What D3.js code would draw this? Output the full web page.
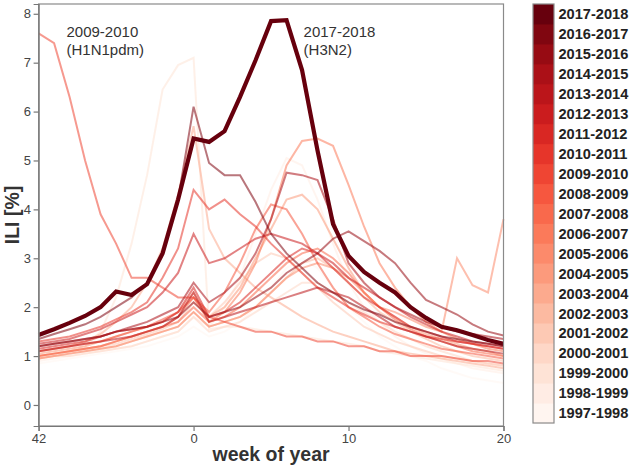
<!DOCTYPE html>
<html>
<head>
<meta charset="utf-8">
<script src="https://cdn.jsdelivr.net/npm/d3@7"></script>
<style>
  body { margin: 0; background: #fff; }
  svg { display: block; }
  text { font-family: "Liberation Sans", Arial, sans-serif; }
</style>
</head>
<body>
<svg id="chart" width="633" height="467"></svg>
<script>
// ---------- DATA ----------
const weeks = d3.range(-10, 21); // week 42 ... week 20 of next year
const xTickValues = [-10, 0, 10, 20];
const xTickLabels = ["42", "0", "10", "20"];
const yTickValues = [0, 1, 2, 3, 4, 5, 6, 7, 8];

const seasons = [
  "1997-1998","1998-1999","1999-2000","2000-2001","2001-2002","2002-2003",
  "2003-2004","2004-2005","2005-2006","2006-2007","2007-2008","2008-2009",
  "2009-2010","2010-2011","2011-2012","2012-2013","2013-2014","2014-2015",
  "2015-2016","2016-2017","2017-2018"
];

const s1997 = [0.85,0.9,0.95,1.0,1.05,1.1,1.15,1.2,1.3,1.4,1.6,1.4,1.5,1.7,2.0,2.4,2.8,3.0,2.8,2.4,2.0,1.7,1.4,1.2,1.0,0.9,0.75,0.65,0.55,0.5,0.45];
const s1998 = [0.9,0.95,1.0,1.05,1.1,1.15,1.2,1.3,1.4,1.5,1.8,1.6,2.0,2.6,3.5,4.4,5.05,4.9,4.2,3.3,2.5,2.0,1.7,1.4,1.2,1.05,0.95,0.85,0.75,0.7,0.65];
const s1999 = [1.0,1.05,1.1,1.2,1.5,2.2,3.3,4.7,6.45,6.95,7.1,1.55,1.6,1.6,1.55,1.5,1.45,1.4,1.35,1.3,1.25,1.2,1.1,1.05,1.0,0.95,0.9,0.85,0.8,0.75,0.7];
const s2000 = [0.95,1.0,1.0,1.05,1.1,1.15,1.2,1.3,1.4,1.5,1.8,1.5,1.6,1.7,1.9,2.1,2.3,2.5,2.5,2.3,2.1,1.9,1.7,1.5,1.35,1.2,1.1,1.0,0.9,0.85,0.8];
const s2001 = [1.0,1.05,1.1,1.15,1.2,1.25,1.35,1.45,1.55,1.7,2.1,1.8,2.1,2.5,2.9,3.1,3.0,2.7,2.4,2.1,1.85,1.6,1.45,1.3,1.2,1.1,1.0,0.95,0.9,0.85,0.8];
const s2002 = [0.95,1.0,1.05,1.1,1.15,1.2,1.3,1.4,1.5,1.6,1.9,1.6,1.7,1.8,2.0,2.3,2.6,2.9,3.0,2.8,2.5,2.2,1.9,1.7,1.5,1.35,1.2,1.1,1.0,0.95,0.9];
const s2003 = [1.1,1.15,1.2,1.3,1.45,1.7,2.0,2.5,3.2,4.3,5.7,3.6,3.0,2.7,2.4,2.2,2.0,1.8,1.65,1.5,1.4,1.3,1.2,1.1,1.05,1.0,0.95,0.9,0.85,0.8,0.75];
const s2004 = [1.05,1.1,1.15,1.2,1.3,1.4,1.5,1.6,1.7,1.9,2.3,1.8,2.0,2.4,3.0,3.6,4.2,4.3,4.0,3.4,2.8,2.3,2.0,1.8,1.6,1.45,1.35,1.25,1.15,1.1,1.0];
const s2005 = [0.95,1.0,1.05,1.1,1.15,1.2,1.3,1.4,1.5,1.6,1.9,1.6,1.7,1.8,2.0,2.3,2.6,2.8,2.9,2.8,2.6,2.3,2.0,1.9,1.75,1.6,1.5,3.0,2.45,2.3,3.8];
const s2006 = [1.0,1.05,1.1,1.15,1.2,1.3,1.4,1.5,1.6,1.8,2.2,1.7,1.9,2.3,2.9,3.8,4.9,5.4,5.45,5.3,4.5,3.65,2.9,2.4,2.0,1.7,1.5,1.35,1.25,1.15,1.1];
const s2007 = [1.0,1.05,1.1,1.15,1.2,1.3,1.4,1.5,1.6,1.7,2.0,1.7,1.8,2.0,2.3,2.6,2.9,3.1,3.2,3.0,2.7,2.3,2.0,1.75,1.55,1.4,1.3,1.2,1.1,1.05,1.0];
const s2008 = [1.1,1.15,1.2,1.25,1.3,1.4,1.5,1.6,1.75,1.9,2.2,1.9,2.3,2.9,3.6,4.1,4.0,3.5,2.9,2.4,2.0,1.8,1.6,1.45,1.35,1.25,1.15,1.1,1.05,1.0,0.95];
const s2009 = [7.6,7.4,6.3,5.0,3.9,3.3,2.6,2.6,2.4,2.2,2.2,1.8,1.7,1.6,1.5,1.5,1.4,1.4,1.3,1.3,1.2,1.2,1.1,1.1,1.0,1.0,1.0,0.95,0.9,0.9,0.85];
const s2010 = [1.3,1.35,1.4,1.5,1.6,1.75,1.9,2.1,2.6,3.2,4.4,4.0,4.2,3.9,3.65,3.3,3.0,2.7,2.4,2.2,2.0,1.85,1.7,1.6,1.5,1.4,1.35,1.3,1.25,1.2,1.15];
const s2011 = [1.15,1.2,1.25,1.3,1.4,1.5,1.55,1.6,1.7,1.9,2.4,1.8,1.9,2.1,2.4,2.7,3.0,3.2,3.1,2.8,2.5,2.2,2.0,1.8,1.6,1.5,1.4,1.3,1.25,1.2,1.15];
const s2012 = [1.25,1.3,1.35,1.45,1.55,1.7,1.85,2.0,2.3,2.7,3.5,2.9,3.0,3.2,3.4,3.5,3.4,3.3,3.1,2.9,2.6,2.4,2.2,2.0,1.8,1.65,1.5,1.4,1.3,1.25,1.2];
const s2013 = [1.1,1.15,1.2,1.25,1.3,1.35,1.4,1.5,1.6,1.8,2.3,1.7,1.8,1.9,2.0,2.1,2.2,2.3,2.4,2.3,2.2,2.0,1.8,1.6,1.5,1.4,1.3,1.2,1.15,1.1,1.05];
const s2014 = [1.2,1.25,1.3,1.35,1.4,1.5,1.6,1.7,1.85,2.0,2.5,2.1,2.3,2.6,3.1,3.8,4.75,4.7,4.6,3.8,2.9,2.5,2.2,2.0,1.85,1.7,1.6,1.5,1.45,1.4,1.35];
const s2015 = [1.2,1.25,1.3,1.35,1.4,1.5,1.55,1.6,1.7,1.8,2.1,1.8,1.9,2.0,2.2,2.4,2.7,2.9,3.1,3.4,3.55,3.35,3.15,2.9,2.5,2.15,2.0,1.85,1.65,1.5,1.42];
const s2016 = [1.35,1.45,1.55,1.65,1.8,2.0,2.2,2.5,3.1,4.2,6.1,4.95,4.7,4.7,4.15,3.5,3.1,2.8,2.5,2.3,2.1,1.95,1.85,1.7,1.6,1.5,1.4,1.35,1.3,1.25,1.2];
const s2017 = [1.43,1.55,1.68,1.82,2.0,2.32,2.25,2.47,3.1,4.2,5.45,5.38,5.6,6.3,7.05,7.85,7.87,6.85,5.2,3.7,3.05,2.72,2.5,2.3,2.0,1.78,1.6,1.53,1.43,1.33,1.25];

const seriesValues = [s1997,s1998,s1999,s2000,s2001,s2002,s2003,s2004,s2005,s2006,s2007,
  s2008,s2009,s2010,s2011,s2012,s2013,s2014,s2015,s2016,s2017];

const annotations = [
  {week: -8.2, lines: ["2009-2010", "(H1N1pdm)"]},
  {week: 7.1, lines: ["2017-2018", "(H3N2)"]}
];

// ---------- LAYOUT ----------
const svg = d3.select("#chart");
const plot = {left: 38.6, right: 503.5, top: 4, bottom: 426};

const x = d3.scaleLinear().domain([-10, 20]).range([plot.left, plot.right]);
const y = d3.scaleLinear().domain([-0.43, 8.2]).range([plot.bottom, plot.top]);
const color = i => d3.interpolateReds(i / (seasons.length - 1));

// lines
const line = d3.line().x((d, i) => x(weeks[i])).y(d => y(d));
const g = svg.append("g");
seriesValues.forEach((vals, i) => {
  const last = i === seriesValues.length - 1;
  g.append("path")
    .datum(vals)
    .attr("d", line)
    .attr("fill", "none")
    .attr("stroke", color(i))
    .attr("stroke-width", last ? 4.2 : 2)
    .attr("stroke-opacity", last ? 1 : 0.55)
    .attr("stroke-linejoin", "miter");
});

// frame
svg.append("rect")
  .attr("x", plot.left).attr("y", plot.top)
  .attr("width", plot.right - plot.left).attr("height", plot.bottom - plot.top)
  .attr("fill", "none").attr("stroke", "#8a8a8a").attr("stroke-width", 1.2);

// axes
const yAxis = d3.axisLeft(y).tickValues(yTickValues).tickSize(5).tickPadding(2.5)
  .tickFormat(d3.format("d"));
const yg = svg.append("g").attr("transform", `translate(${plot.left},0)`).call(yAxis);
const xAxis = d3.axisBottom(x).tickValues(xTickValues).tickSize(5).tickPadding(3)
  .tickFormat((d, i) => xTickLabels[i]);
const xg = svg.append("g").attr("transform", `translate(0,${plot.bottom})`).call(xAxis);
[yg, xg].forEach(a => {
  a.select(".domain").attr("stroke", "#777").attr("stroke-width", 1.2);
  a.selectAll(".tick line").attr("stroke", "#777").attr("stroke-width", 1.2);
  a.selectAll(".tick text").attr("fill", "#444").style("font-size", "13px")
    .style("font-family", "'Liberation Sans', Arial, sans-serif");
});

// axis titles
svg.append("text")
  .attr("x", (plot.left + plot.right) / 2).attr("y", 461)
  .attr("text-anchor", "middle").attr("fill", "#333")
  .style("font-size", "19.5px").style("font-weight", "bold")
  .text("week of year");
svg.append("text")
  .attr("transform", `translate(19,${(plot.top + plot.bottom) / 2}) rotate(-90)`)
  .attr("text-anchor", "middle").attr("fill", "#333")
  .style("font-size", "19.5px").style("font-weight", "bold")
  .text("ILI [%]");

// annotations
annotations.forEach(a => {
  const t = svg.append("text").attr("fill", "#333").style("font-size", "15px");
  a.lines.forEach((s, k) => {
    t.append("tspan").attr("x", x(a.week)).attr("y", 37 + k * 18).text(s);
  });
});

// legend (colorbar)
const leg = {x: 533, y: 4, w: 21, h: 419};
const rowH = leg.h / seasons.length;
const lg = svg.append("g");
seasons.forEach((s, i) => {
  const row = seasons.length - 1 - i;
  lg.append("rect")
    .attr("x", leg.x).attr("y", leg.y + row * rowH)
    .attr("width", leg.w).attr("height", rowH + 0.5)
    .attr("fill", color(i));
  lg.append("text")
    .attr("x", leg.x + leg.w + 4.5).attr("y", leg.y + row * rowH + rowH / 2)
    .attr("dy", "0.36em").attr("fill", "#222")
    .style("font-size", "14.6px").style("font-weight", "bold")
    .text(s);
});
lg.append("rect")
  .attr("x", leg.x).attr("y", leg.y).attr("width", leg.w).attr("height", leg.h)
  .attr("fill", "none").attr("stroke", "#8a8a8a").attr("stroke-width", 1.2);
</script>
</body>
</html>
